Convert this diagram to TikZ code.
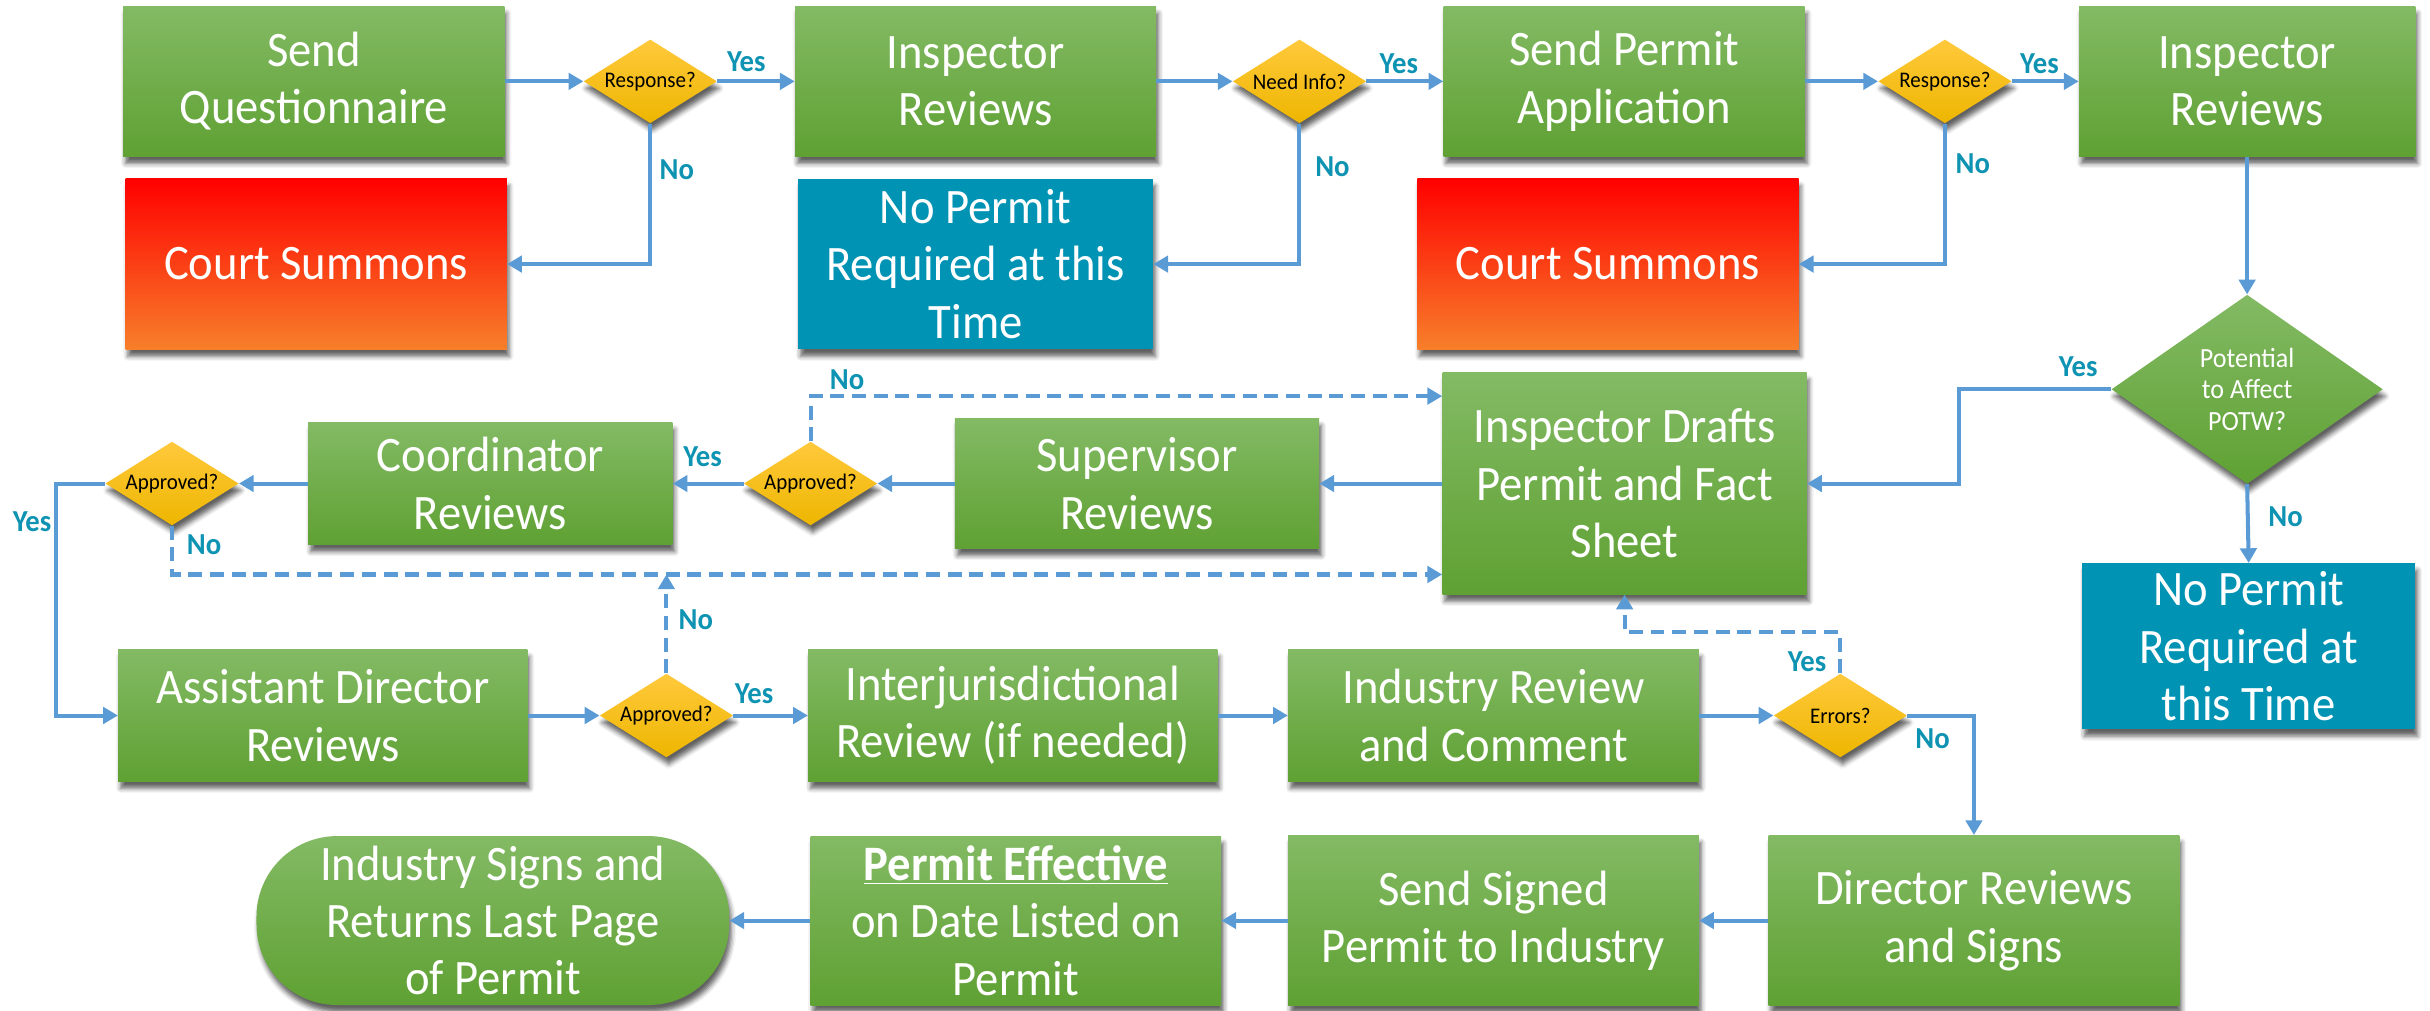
\documentclass[tikz,border=0pt]{standalone}
\usepackage{fontspec}
\setmainfont{Carlito}[FakeStretch=0.94]
\usetikzlibrary{arrows.meta,shapes.geometric,shadows.blur,calc}
\definecolor{gtop}{HTML}{83BA64}
\definecolor{gbot}{HTML}{5FA133}
\definecolor{rtop}{HTML}{FF0000}
\definecolor{rbot}{HTML}{F77F2A}
\definecolor{tealbox}{HTML}{0093B4}
\definecolor{ytop}{HTML}{FFC93C}
\definecolor{ybot}{HTML}{EEB600}
\definecolor{lineblue}{HTML}{5B9BD5}
\definecolor{labteal}{HTML}{0F93B3}
\newcommand\bxfont{\fontsize{32}{37}\selectfont}
\newcommand\dfont{\fontsize{14.4}{16}\selectfont}
\newcommand\pfont{\fontsize{17.9}{20.4}\selectfont}
\newcommand\lfont{\bfseries\fontsize{19.7}{21}\selectfont}
\begin{document}
\begin{tikzpicture}[x=1pt,y=-1pt,
  shadowed/.style={blur shadow={shadow xshift=1.5pt, shadow yshift=-4.5pt, shadow blur radius=3pt, shadow opacity=62}},
  gbox/.style={rectangle, draw=none, top color=gtop, bottom color=gbot, text=white, font=\bxfont, align=center, inner sep=0pt, shadowed},
  rbox/.style={rectangle, draw=none, top color=rtop, bottom color=rbot, text=white, font=\bxfont, align=center, inner sep=0pt, shadowed},
  tbox/.style={rectangle, draw=none, fill=tealbox, text=white, font=\bxfont, align=center, inner sep=0pt, shadowed},
  ydia/.style={diamond, draw=none, top color=ytop, bottom color=ybot, text=black, font=\dfont, align=center, inner sep=0pt, minimum width=86pt, minimum height=54pt, aspect=1.6, shadowed},
  gdia/.style={diamond, draw=none, top color=gtop, bottom color=gbot, text=white, font=\pfont, align=center, inner sep=0pt, minimum width=175pt, minimum height=122pt, aspect=1.43, shadowed},
  conn/.style={draw=lineblue, line width=2.6pt, -{Triangle[length=9.5pt,width=10.5pt]}},
  dconn/.style={conn, dash pattern=on 9pt off 5pt},
  lab/.style={text=labteal, font=\lfont, inner sep=0pt}
]
\useasboundingbox (0,0) rectangle (1568,652);

% row 1
\node[gbox, minimum width=246pt, minimum height=97pt] (q) at (202.5,52.5) {Send\\Questionnaire};
\node[ydia] (d1) at (419.6,52.5) {Response?};
\node[gbox, minimum width=233pt, minimum height=97pt] (ir1) at (629.5,52.5) {Inspector\\Reviews};
\node[ydia] (d2) at (838.5,52.5) {Need Info?};
\node[gbox, minimum width=233pt, minimum height=97pt] (spa) at (1048,52.5) {Send Permit\\Application};
\node[ydia] (d3) at (1255,52.5) {Response?};
\node[gbox, minimum width=217pt, minimum height=97pt] (ir2) at (1450,52.5) {Inspector\\Reviews};

\node[rbox, minimum width=246pt, minimum height=110pt] (cs1) at (204,170.4) {Court Summons};
\node[tbox, minimum width=229pt, minimum height=110pt] (np1) at (629.5,170.4) {No Permit\\Required at this\\Time};
\node[rbox, minimum width=246pt, minimum height=110pt] (cs2) at (1037.5,170.4) {Court Summons};

\node[gdia] (pot) at (1450,251.2) {Potential\\to Affect\\POTW?};
\node[tbox, minimum width=215pt, minimum height=107pt] (np2) at (1451,417) {No Permit\\Required at\\this Time};

% row 2
\node[gbox, minimum width=235pt, minimum height=143pt] (idr) at (1048.3,312) {Inspector Drafts\\Permit and Fact\\Sheet};
\node[gbox, minimum width=235pt, minimum height=84pt] (sup) at (733.7,312) {Supervisor\\Reviews};
\node[ydia] (d4) at (523,312) {Approved?};
\node[gbox, minimum width=235pt, minimum height=79pt] (coord) at (316.4,312) {Coordinator\\Reviews};
\node[ydia] (d5) at (111,312) {Approved?};

% row 3
\node[gbox, minimum width=264pt, minimum height=85pt] (ad) at (208.3,461.7) {Assistant Director\\Reviews};
\node[ydia] (d6) at (430,461.7) {Approved?};
\node[gbox, minimum width=264pt, minimum height=85pt] (ij) at (653.5,461.7) {Interjurisdictional\\Review (if needed)};
\node[gbox, minimum width=265pt, minimum height=85pt] (irc) at (963.7,461.7) {Industry Review\\and Comment};
\node[ydia] (d7) at (1187.5,461.7) {Errors?};

% row 4
\node[gbox, rounded corners=52pt, minimum width=305pt, minimum height=109pt] (isr) at (318,594) {Industry Signs and\\Returns Last Page\\of Permit};
\node[gbox, minimum width=265pt, minimum height=109pt] (pe) at (655.5,594) {\underline{\textbf{Permit Effective}}\\on Date Listed on\\Permit};
\node[gbox, minimum width=265pt, minimum height=110pt] (ss) at (963.7,594) {Send Signed\\Permit to Industry};
\node[gbox, minimum width=265pt, minimum height=110pt] (dr) at (1273.7,594) {Director Reviews\\and Signs};

% connectors
\draw[conn] (q.east) -- (d1.west);
\draw[conn] (d1.east) -- (ir1.west);
\draw[conn] (d1.south) |- (cs1.east);
\draw[conn] (ir1.east) -- (d2.west);
\draw[conn] (d2.east) -- (spa.west);
\draw[conn] (d2.south) |- (np1.east);
\draw[conn] (spa.east) -- (d3.west);
\draw[conn] (d3.east) -- (ir2.west);
\draw[conn] (d3.south) |- (cs2.east);
\draw[conn] (ir2.south) -- (pot.north);
\draw[conn] (pot.west) -- ++(-98.5,0) |- (idr.east);
\draw[conn] (pot.south) -- (np2.north);
\draw[conn] (idr.west) -- (sup.east);
\draw[conn] (sup.west) -- (d4.east);
\draw[conn] (d4.west) -- (coord.east);
\draw[conn] (coord.west) -- (d5.east);
\draw[conn] (d5.west) -- ++(-31.6,0) |- (ad.west);
\coordinate (busT) at ($(idr.north west)+(0,15.3)$);
\coordinate (busB) at ($(idr.south west)+(0,-13)$);
\draw[dconn] (d4.north) |- (busT);
\draw[dconn] (d5.south) |- (busB);
\draw[dconn] (d6.north) -- (d6.north |- busB);
\draw[conn] (ad.east) -- (d6.west);
\draw[conn] (d6.east) -- (ij.west);
\draw[conn] (ij.east) -- (irc.west);
\draw[conn] (irc.east) -- (d7.west);
\draw[dconn] (d7.north) -- ++(0,-26.5) -| (idr.south);
\draw[conn] (d7.east) -| (dr.north);
\draw[conn] (dr.west) -- (ss.east);
\draw[conn] (ss.west) -- (pe.east);
\draw[conn] (pe.west) -- (isr.east);

% labels
\node[lab] (l1) at (481.6,39.8) {Yes};
\node[lab] (l2) at (436.7,109.7) {No};
\node[lab] (l3) at (902.6,40.9) {Yes};
\node[lab] (l4) at (859.8,107.5) {No};
\node[lab] (l5) at (1316,40.9) {Yes};
\node[lab] (l6) at (1273,105.4) {No};
\node[lab] (l7) at (1341,236.6) {Yes};
\node[lab] (l8) at (1474.8,333.4) {No};
\node[lab] (l9) at (546.6,245.2) {No};
\node[lab] (l10) at (453.3,295) {Yes};
\node[lab] (l11) at (20.7,336.6) {Yes};
\node[lab] (l12) at (131.7,351.7) {No};
\node[lab] (l13) at (449,400) {No};
\node[lab] (l14) at (486.6,447.4) {Yes};
\node[lab] (l15) at (1166,427) {Yes};
\node[lab] (l16) at (1247,476.4) {No};
\end{tikzpicture}
\end{document}
